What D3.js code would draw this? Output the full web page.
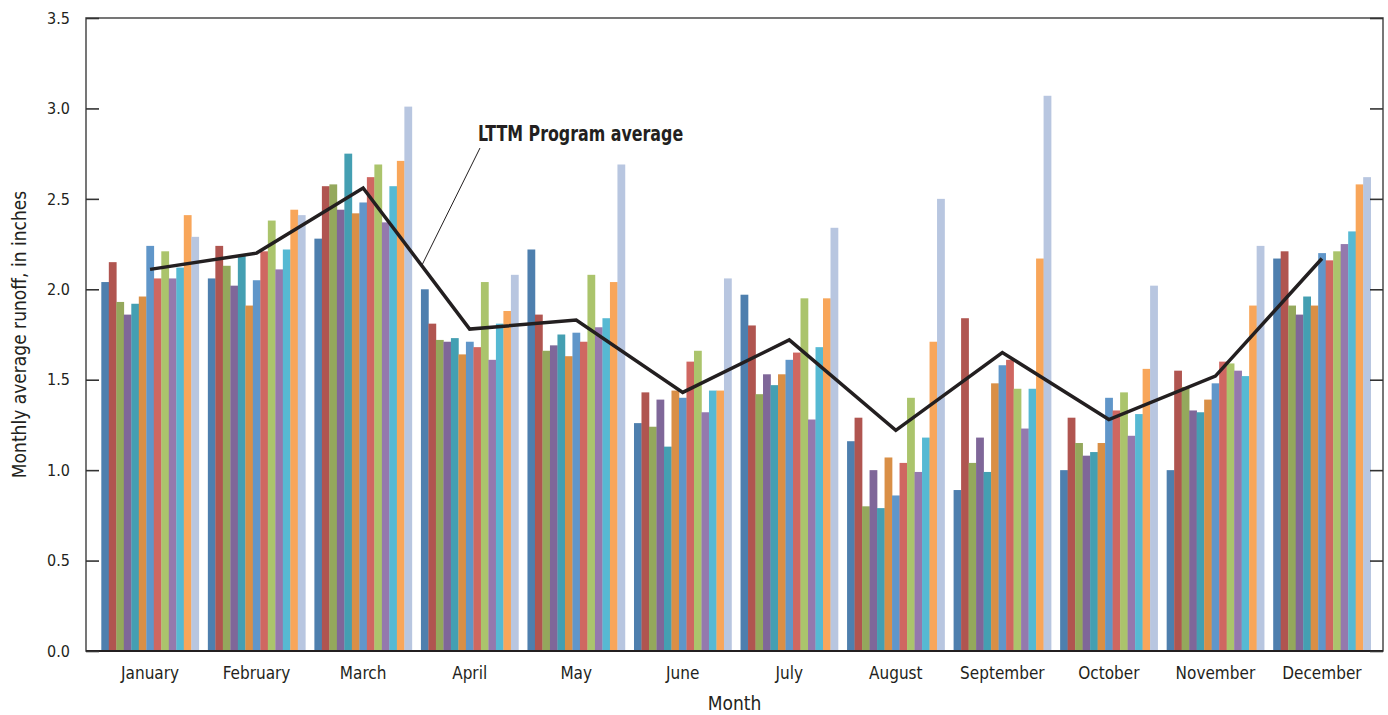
<html>
<head>
<script src="https://d3js.org/d3.v7.min.js"></script>
<style>
  body { margin: 0; background: #fff; }
  text { font-family: "Liberation Sans Narrow", "DejaVu Sans Condensed", "Roboto", sans-serif; fill: #231f20; }
</style>
</head>
<body>
<svg id="svg" width="1388" height="715"></svg>
<script>
var months = ["January","February","March","April","May","June","July","August","September","October","November","December"];

// 13 bars per month, left to right, in inches
var january   = [2.04, 2.15, 1.93, 1.86, 1.92, 1.96, 2.24, 2.06, 2.21, 2.06, 2.12, 2.41, 2.29];
var february  = [2.06, 2.24, 2.13, 2.02, 2.19, 1.91, 2.05, 2.21, 2.38, 2.11, 2.22, 2.44, 2.41];
var march     = [2.28, 2.57, 2.58, 2.44, 2.75, 2.42, 2.48, 2.62, 2.69, 2.37, 2.57, 2.71, 3.01];
var april     = [2.00, 1.81, 1.72, 1.71, 1.73, 1.64, 1.71, 1.68, 2.04, 1.61, 1.81, 1.88, 2.08];
var may       = [2.22, 1.86, 1.66, 1.69, 1.75, 1.63, 1.76, 1.71, 2.08, 1.79, 1.84, 2.04, 2.69];
var june      = [1.26, 1.43, 1.24, 1.39, 1.13, 1.44, 1.40, 1.60, 1.66, 1.32, 1.44, 1.44, 2.06];
var july      = [1.97, 1.80, 1.42, 1.53, 1.47, 1.53, 1.61, 1.65, 1.95, 1.28, 1.68, 1.95, 2.34];
var august    = [1.16, 1.29, 0.80, 1.00, 0.79, 1.07, 0.86, 1.04, 1.40, 0.99, 1.18, 1.71, 2.50];
var september = [0.89, 1.84, 1.04, 1.18, 0.99, 1.48, 1.58, 1.61, 1.45, 1.23, 1.45, 2.17, 3.07];
var october   = [1.00, 1.29, 1.15, 1.08, 1.10, 1.15, 1.40, 1.33, 1.43, 1.19, 1.31, 1.56, 2.02];
var november  = [1.00, 1.55, 1.46, 1.33, 1.32, 1.39, 1.48, 1.60, 1.59, 1.55, 1.52, 1.91, 2.24];
var december  = [2.17, 2.21, 1.91, 1.86, 1.96, 1.91, 2.20, 2.16, 2.21, 2.25, 2.32, 2.58, 2.62];

var programAverage = [2.11, 2.20, 2.56, 1.78, 1.83, 1.43, 1.72, 1.22, 1.65, 1.28, 1.52, 2.17];

var yTicks = [0, 0.5, 1.0, 1.5, 2.0, 2.5, 3.0, 3.5];

var barColors = ["#4e7fae","#b05550","#94a85c","#7f6799","#449fb2","#d98f46","#6096c9",
                 "#cf6761","#abc46c","#9479ad","#56b9d3","#f8a65a","#b8c6e0"];

var runoff = [january, february, march, april, may, june, july, august, september, october, november, december];

(function(){
    var svg = d3.select("svg");
    var pLeft = 86, pRight = 1383, pTop = 18, pBottom = 651;

    var x0 = d3.scaleBand().domain(months).range([88, 1384]).paddingInner(0.085).paddingOuter(0.125);
    var x1 = d3.scaleBand().domain(d3.range(barColors.length)).range([0, x0.bandwidth()]);
    var y = d3.scaleLinear().domain([0, 3.5]).range([pBottom, pTop]);

    // bars
    var groups = svg.append("g").selectAll("g")
        .data(runoff)
        .enter().append("g")
        .attr("transform", function(d, i){ return "translate(" + x0(months[i]) + ",0)"; });

    groups.selectAll("rect")
        .data(function(d){ return d; })
        .enter().append("rect")
        .attr("x", function(d, i){ return x1(i); })
        .attr("width", x1.bandwidth() + 0.3)
        .attr("y", function(d){ return y(d); })
        .attr("height", function(d){ return y(0) - y(d); })
        .attr("fill", function(d, i){ return barColors[i]; });

    // frame
    svg.append("rect")
        .attr("x", pLeft).attr("y", pTop)
        .attr("width", pRight - pLeft).attr("height", pBottom - pTop)
        .attr("fill", "none").attr("stroke", "#555").attr("stroke-width", 1.6);
    svg.append("line")
        .attr("x1", pLeft).attr("x2", pRight).attr("y1", pBottom).attr("y2", pBottom)
        .attr("stroke", "#231f20").attr("stroke-width", 2);

    // y axis ticks, pointing inward on both sides
    var yAxisL = svg.append("g").attr("transform", "translate(" + pLeft + ",0)")
        .call(d3.axisRight(y).tickValues(yTicks).tickSize(13).tickFormat(""));
    yAxisL.select(".domain").remove();
    yAxisL.selectAll("line").attr("stroke", "#333").attr("stroke-width", 1.6);

    var yAxisR = svg.append("g").attr("transform", "translate(" + pRight + ",0)")
        .call(d3.axisLeft(y).tickValues(yTicks).tickSize(13).tickFormat(""));
    yAxisR.select(".domain").remove();
    yAxisR.selectAll("line").attr("stroke", "#333").attr("stroke-width", 1.6);

    // y tick labels
    svg.append("g").selectAll("text")
        .data(yTicks)
        .enter().append("text")
        .attr("x", 70)
        .attr("y", function(d){ return y(d); })
        .attr("dy", "0.36em")
        .attr("text-anchor", "end")
        .style("font-size", "16px")
        .text(function(d){ return d3.format(".1f")(d); });

    // month labels
    svg.append("g").selectAll("text")
        .data(months)
        .enter().append("text")
        .attr("x", function(d){ return x0(d) + x0.bandwidth() / 2; })
        .attr("y", 679)
        .attr("text-anchor", "middle")
        .style("font-size", "17px")
        .text(function(d){ return d; });

    // axis titles
    svg.append("text")
        .attr("x", (pLeft + pRight) / 2).attr("y", 710)
        .attr("text-anchor", "middle")
        .style("font-size", "19px")
        .text("Month");

    svg.append("text")
        .attr("transform", "translate(26," + ((pTop + pBottom) / 2) + ") rotate(-90)")
        .attr("text-anchor", "middle")
        .style("font-size", "19px")
        .text("Monthly average runoff, in inches");

    // program average line
    var line = d3.line()
        .x(function(d, i){ return x0(months[i]) + x0.bandwidth() / 2; })
        .y(function(d){ return y(d); });

    svg.append("path")
        .datum(programAverage)
        .attr("d", line)
        .attr("fill", "none")
        .attr("stroke", "#231f20")
        .attr("stroke-width", 3.5)
        .attr("stroke-linejoin", "miter");

    // annotation
    var ax0 = x0("March") + x0.bandwidth() / 2, ay0 = y(programAverage[2]);
    var ax1 = x0("April") + x0.bandwidth() / 2, ay1 = y(programAverage[3]);
    var t = 0.55;
    svg.append("line")
        .attr("x1", 480).attr("y1", 148)
        .attr("x2", ax0 + (ax1 - ax0) * t).attr("y2", ay0 + (ay1 - ay0) * t)
        .attr("stroke", "#231f20").attr("stroke-width", 1);

    svg.append("text")
        .attr("transform", "translate(478,141) scale(0.84,1)")
        .style("font-size", "21px")
        .style("font-weight", "bold")
        .text("LTTM Program average");
})();
</script>
</body>
</html>
